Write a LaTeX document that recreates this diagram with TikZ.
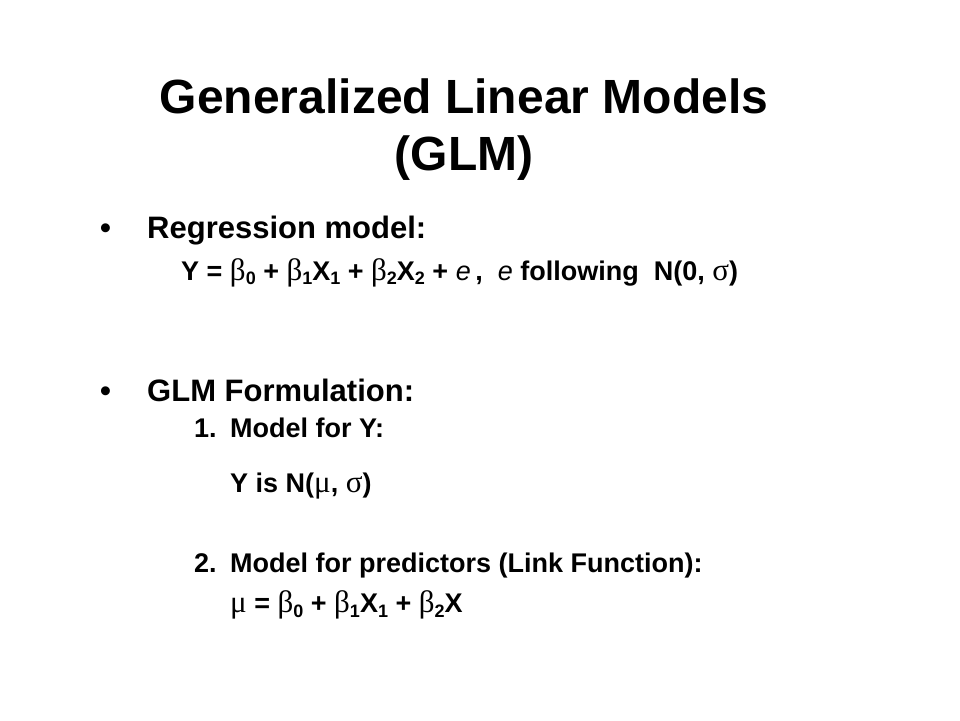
\documentclass[tikz,border=0pt]{standalone}
\usepackage{fontspec}
\setmainfont{Liberation Sans}
\newfontfamily\grk[Scale=1.15]{Liberation Serif}
\newcommand{\gb}{{\grk\mdseries β}}
\newcommand{\gm}{{\grk\mdseries μ}}
\newcommand{\gs}{{\grk\mdseries σ}}
\newcommand{\ee}{{\mdseries\itshape e}}
\newcommand{\lo}[1]{\raisebox{-0.35ex}{\fontsize{18}{20}\selectfont #1}}
\tikzset{
  title/.style={anchor=base, font=\fontsize{48}{53}\selectfont\bfseries, inner sep=0pt},
  lvlone/.style={anchor=base west, font=\fontsize{31}{36}\selectfont\bfseries, inner sep=0pt},
  lvltwo/.style={anchor=base west, font=\fontsize{27}{32}\selectfont\bfseries, inner sep=0pt},
  bul/.style={anchor=base west, font=\fontsize{31}{36}\selectfont\bfseries, inner sep=0pt}
}
\begin{document}
\begin{tikzpicture}[x=1pt,y=-1pt]
\fill[white] (0,0) rectangle (960,720);
\useasboundingbox (0,0) rectangle (960,720);
\node[title] (t1) at (464,113) {Generalized Linear Models};
\node[title] (t2) at (464,170) {(GLM)};
\node[bul] (b1) at (100,238) {•};
\node[lvlone] (h1) at (147,238) {Regression model:};
\node[lvltwo] (eq1) at (181,280) {Y = \gb\lo{0} + \gb\lo{1}X\lo{1} + \gb\lo{2}X\lo{2} + \ee\,,\ \ \ee\ following\ \ N(0, \gs)};
\node[bul] (b2) at (100,401) {•};
\node[lvlone] (h2) at (147,401) {GLM Formulation:};
\node[lvltwo] (n1) at (194,437) {1.};
\node[lvltwo] (m1) at (230,437) {Model for Y:};
\node[lvltwo] (y1) at (230,492) {Y is N(\gm, \gs)};
\node[lvltwo] (n2) at (194,572) {2.};
\node[lvltwo] (m2) at (230,572) {Model for predictors (Link Function):};
\node[lvltwo] (eq2) at (230,612) {\gm\ = \gb\lo{0} + \gb\lo{1}X\lo{1} + \gb\lo{2}X};
\end{tikzpicture}
\end{document}
